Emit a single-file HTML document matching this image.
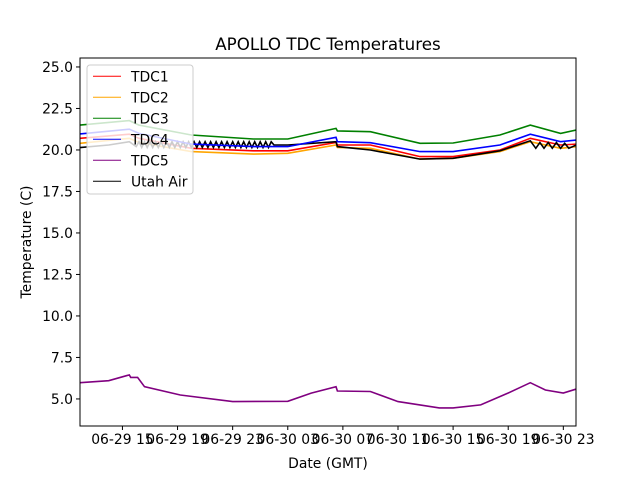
<!DOCTYPE html>
<html><head><meta charset="utf-8"><style>
body{margin:0;background:#fff;font-family:"Liberation Sans","DejaVu Sans",sans-serif}
svg text{font-family:"DejaVu Sans","Liberation Sans",sans-serif}
</style></head><body>
<svg id="chart" width="640" height="480" xmlns="http://www.w3.org/2000/svg">
<rect width="640" height="480" fill="#fff"/>
<text x="328" y="50" font-size="16.7" text-anchor="middle">APOLLO TDC Temperatures</text>
<g id="plot"></g>
<text x="328" y="468" font-size="13.9" text-anchor="middle">Date (GMT)</text>
<text transform="translate(31,242) rotate(-90)" font-size="13.9" text-anchor="middle">Temperature (C)</text>
</svg>
<script>
const xTicks=[15,19,23,27,31,35,39,43,47];
const xTickLabels=["06-29 15","06-29 19","06-29 23","06-30 03","06-30 07","06-30 11","06-30 15","06-30 19","06-30 23"];
const yTicks=[5,7.5,10,12.5,15,17.5,20,22.5,25];
const seriesNames=["TDC1","TDC2","TDC3","TDC4","TDC5","Utah Air"];
const hoursMain=[11.9,15.5,16.2,20,24.5,27,30.5,30.6,33,36.6,39,42.4,44.6,46.8,47.95];
const tdc1=[20.7,20.95,20.7,20.1,19.95,19.95,20.45,20.3,20.3,19.6,19.6,20.0,20.7,20.3,20.35];
const tdc2=[20.4,20.7,20.45,19.9,19.75,19.8,20.3,20.15,20.1,19.45,19.5,19.9,20.5,20.1,20.2];
const tdc3=[21.5,21.77,21.5,20.9,20.66,20.66,21.3,21.15,21.1,20.4,20.42,20.9,21.5,21.0,21.2];
const tdc4=[20.96,21.25,21.0,20.35,20.2,20.2,20.76,20.5,20.44,19.9,19.9,20.3,20.95,20.5,20.6];
const hoursTdc5=[11.9,14,15.5,15.6,16.1,16.6,19.2,23,27,28.7,30.5,30.6,33,35,38,39,41,43,44.6,45.7,47,47.95];
const tdc5=[5.98,6.1,6.45,6.3,6.3,5.74,5.24,4.84,4.86,5.35,5.74,5.48,5.45,4.84,4.46,4.46,4.64,5.36,5.98,5.54,5.36,5.6];
const hoursAir=[11.9,14,15.5,16.0,16.2,16.4,16.6,16.8,17.0,17.2,17.4,17.6,17.8,18.0,18.2,18.4,18.6,18.8,19.0,19.2,19.4,19.6,19.8,20.0,20.2,20.4,20.6,20.8,21.0,21.2,21.4,21.6,21.8,22.0,22.2,22.4,22.6,22.8,23.0,23.2,23.4,23.6,23.8,24.0,24.2,24.4,24.6,24.8,25.0,25.2,25.4,25.6,25.8,26.0,27,30.5,30.6,33,36.6,39,42.4,44.6,45.0,45.3,45.6,45.9,46.2,46.5,46.8,47.1,47.4,47.95];
const utahAir=[20.14,20.3,20.5,20.2,20.5,20.15,20.5,20.15,20.5,20.15,20.5,20.15,20.5,20.15,20.5,20.15,20.5,20.15,20.5,20.15,20.5,20.15,20.5,20.15,20.5,20.15,20.5,20.15,20.5,20.15,20.5,20.15,20.5,20.15,20.5,20.15,20.5,20.15,20.5,20.15,20.5,20.15,20.5,20.15,20.5,20.15,20.5,20.15,20.5,20.15,20.5,20.15,20.5,20.3,20.3,20.5,20.2,20.0,19.45,19.5,19.95,20.55,20.1,20.45,20.1,20.45,20.1,20.45,20.1,20.4,20.1,20.3];

const L=80,R=576,T=58,B=426,X0=11.92,X1=47.92,Y0=3.37,Y1=25.54;
const xs=h=>L+(h-X0)/(X1-X0)*(R-L);
const ys=v=>B-(v-Y0)/(Y1-Y0)*(B-T);
const NS="http://www.w3.org/2000/svg";
const g=document.getElementById('plot');
function mk(tag,attrs,parent){const e=document.createElementNS(NS,tag);for(const k in attrs)e.setAttribute(k,attrs[k]);(parent||g).appendChild(e);return e;}
const clip=mk('clipPath',{id:'pc'});mk('rect',{x:L,y:T,width:R-L,height:B-T},clip);
const series=[[hoursMain,tdc2,'orange'],[hoursMain,tdc1,'red'],[hoursAir,utahAir,'black'],[hoursMain,tdc4,'blue'],[hoursMain,tdc3,'green'],[hoursTdc5,tdc5,'purple']];
const lineNames=['line-tdc2','line-tdc1','line-utah-air','line-tdc4','line-tdc3','line-tdc5'];
series.forEach((s,i)=>{
  const d=s[0].map((h,j)=>(j?'L':'M')+xs(h).toFixed(1)+','+ys(s[1][j]).toFixed(1)).join('');
  const p=mk('path',{d:d,fill:'none',stroke:s[2],'stroke-width':1.6,'clip-path':'url(#pc)'});
  
  
});
const frame=mk('rect',{x:L,y:T,width:R-L,height:B-T,fill:'none',stroke:'#000','stroke-width':1});


xTicks.forEach((h,i)=>{
  const x=xs(h);
  mk('line',{x1:x,x2:x,y1:B,y2:B+4,stroke:'#000'});
  const t=mk('text',{x:x,y:B+18,'font-size':13.9,'text-anchor':'middle'});
  t.textContent=xTickLabels[i];
  
  
});
yTicks.forEach(v=>{
  const y=ys(v);
  mk('line',{x1:L-4,x2:L,y1:y,y2:y,stroke:'#000'});
  const t=mk('text',{x:L-7,y:y+5,'font-size':13.9,'text-anchor':'end'});
  t.textContent=v.toFixed(1);
  
  
});
const legendColors=['red','orange','green','blue','purple','black'];
const lg=mk('g',{});


mk('rect',{x:87,y:65,width:106,height:129,rx:3,fill:'#fff','fill-opacity':0.8,stroke:'#ccc'},lg);
seriesNames.forEach((n,i)=>{
  const y=76.3+i*21;
  const e=mk('g',{},lg);
  
  
  mk('line',{x1:93,x2:121,y1:y,y2:y,stroke:legendColors[i],'stroke-width':1},e);
  const t=mk('text',{x:131,y:y+5,'font-size':13.9},e);
  t.textContent=n;
});
</script>
</body></html>
